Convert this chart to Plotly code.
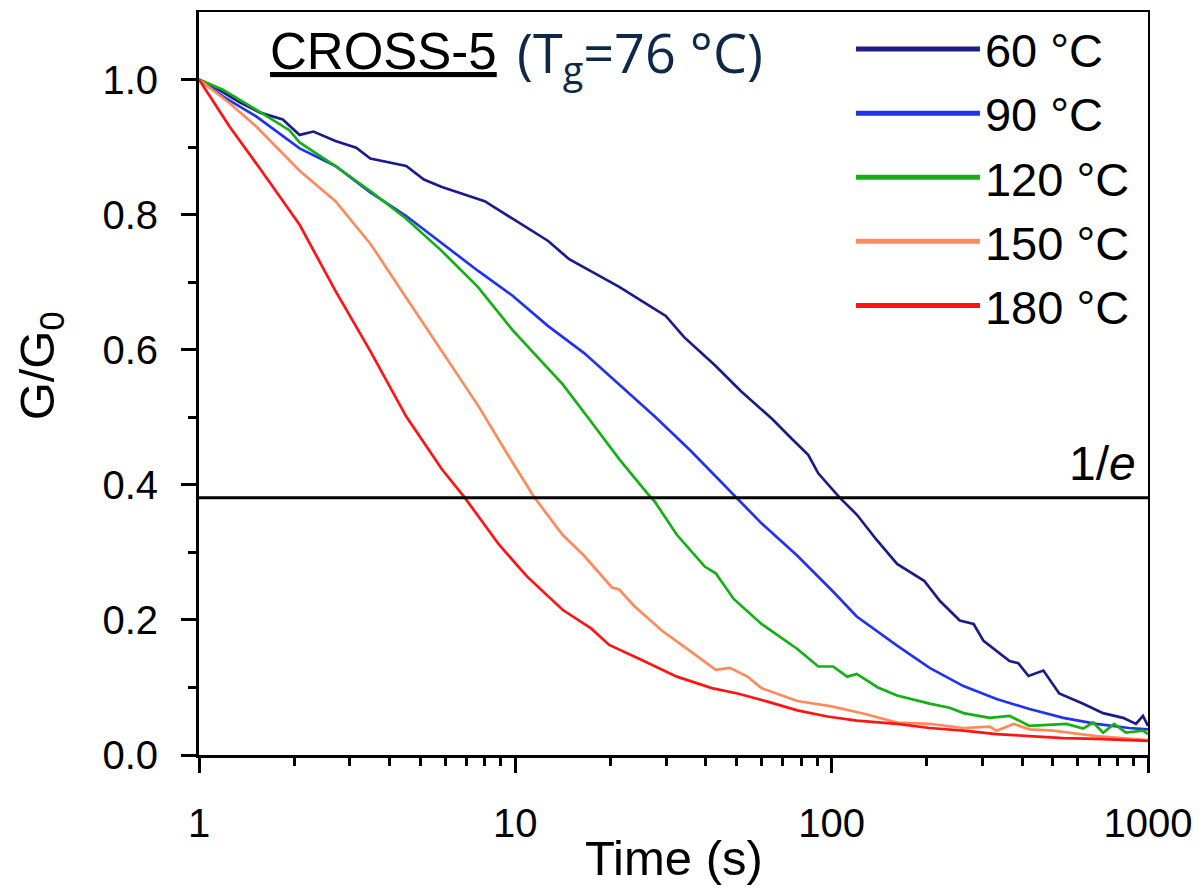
import plotly.graph_objects as go

# ---- data ----
series_names = ["60 °C", "90 °C", "120 °C", "150 °C", "180 °C"]
series_colors = ["#1c1c88", "#2233ee", "#14b014", "#ff8a5c", "#ff1414"]

t_60 = [1, 1.107, 1.35, 1.56, 1.84, 2.08, 2.30, 2.70, 3.14, 3.48, 4.52, 5.14, 5.86, 6.82, 8.00,
        9.80, 12.7, 14.8, 21.3, 27.6, 29.9, 34.1, 43.0, 51.6, 65.0, 74.1, 84.4, 90.7, 106, 120,
        139, 161, 196, 220, 254, 281, 302, 365, 389, 419, 467, 524, 624, 721, 834, 916, 964, 1000]
v_60 = [1.0, 0.99, 0.966, 0.951, 0.941, 0.918, 0.923, 0.909, 0.899, 0.883, 0.872, 0.852, 0.841,
        0.831, 0.820, 0.794, 0.761, 0.734, 0.693, 0.660, 0.650, 0.619, 0.576, 0.539, 0.497, 0.470,
        0.444, 0.417, 0.381, 0.356, 0.318, 0.283, 0.258, 0.228, 0.199, 0.194, 0.169, 0.139, 0.136,
        0.117, 0.125, 0.091, 0.076, 0.062, 0.055, 0.046, 0.058, 0.043]

t_90 = [1, 1.19, 1.52, 2.08, 2.70, 3.48, 4.52, 5.86, 7.61, 9.80, 12.7, 16.5, 21.3, 27.6, 35.9,
        46.6, 50.1, 60.0, 77.9, 101, 120, 161, 204, 261, 332, 422, 540, 686, 871, 1000]
v_90 = [1.0, 0.975, 0.945, 0.898, 0.872, 0.833, 0.798, 0.757, 0.717, 0.680, 0.635, 0.595, 0.549,
        0.501, 0.450, 0.396, 0.381, 0.343, 0.295, 0.242, 0.205, 0.162, 0.129, 0.102, 0.083, 0.068,
        0.055, 0.046, 0.040, 0.038]

t_120 = [1, 1.19, 1.52, 1.93, 2.08, 2.70, 3.48, 4.52, 5.86, 7.61, 9.80, 12.7, 14.1, 16.5, 21.3,
         26.3, 27.6, 32.4, 39.7, 43.0, 49.0, 60.0, 77.9, 90.7, 101, 112, 120, 140, 161, 204, 236,
         261, 316, 365, 422, 552, 624, 671, 721, 781, 852, 964, 1000]
v_120 = [1.0, 0.985, 0.955, 0.925, 0.907, 0.872, 0.835, 0.794, 0.746, 0.693, 0.629, 0.571, 0.549,
         0.507, 0.438, 0.386, 0.375, 0.326, 0.279, 0.269, 0.231, 0.194, 0.157, 0.131, 0.131, 0.116,
         0.120, 0.100, 0.088, 0.076, 0.07, 0.062, 0.055, 0.058, 0.043, 0.046, 0.039, 0.048, 0.033,
         0.046, 0.033, 0.036, 0.031]

t_150 = [1, 1.25, 1.52, 2.08, 2.70, 3.48, 4.52, 5.86, 7.61, 9.80, 11.5, 14.1, 16.5, 20.2, 21.3,
         23.7, 29.1, 35.9, 43.0, 47.6, 54.2, 60.0, 77.9, 100, 126.6, 161, 204, 261, 316, 332, 376,
         422, 501, 686, 852, 1000]
v_150 = [1.0, 0.965, 0.930, 0.865, 0.820, 0.757, 0.677, 0.598, 0.518, 0.433, 0.381, 0.326, 0.295,
         0.248, 0.245, 0.221, 0.184, 0.153, 0.126, 0.129, 0.116, 0.099, 0.080, 0.072, 0.061, 0.048,
         0.046, 0.040, 0.042, 0.036, 0.046, 0.038, 0.036, 0.028, 0.025, 0.022]

t_180 = [1, 1.25, 1.56, 2.08, 2.70, 3.48, 4.52, 5.86, 6.92, 8.86, 10.9, 14.1, 17.4, 19.8, 25.0,
         32.4, 41.8, 50.4, 62.7, 77.9, 96.9, 120, 161, 204, 261, 332, 422, 540, 686, 852, 1000]
v_180 = [1.0, 0.93, 0.868, 0.785, 0.687, 0.598, 0.501, 0.423, 0.381, 0.312, 0.264, 0.215, 0.187,
         0.163, 0.141, 0.116, 0.099, 0.091, 0.079, 0.066, 0.057, 0.051, 0.046, 0.040, 0.036, 0.031,
         0.028, 0.025, 0.024, 0.022, 0.021]

ref_level = 0.381          # horizontal "1/e" line as drawn
ref_t = [1, 1000]

x_tickvals = [1, 10, 100, 1000]
x_ticktext = ["1", "10", "100", "1000"]
x_minor = [m * d for d in (1, 10, 100) for m in range(2, 10)]
y_tickvals = [0.0, 0.2, 0.4, 0.6, 0.8, 1.0]
y_minor = [0.1, 0.3, 0.5, 0.7, 0.9]

FONT = "Liberation Sans, Arial, sans-serif"

fig = go.Figure()
all_t = [t_60, t_90, t_120, t_150, t_180]
all_v = [v_60, v_90, v_120, v_150, v_180]
for name, col, tt, vv in zip(series_names, series_colors, all_t, all_v):
    fig.add_trace(go.Scatter(x=tt, y=vv, mode="lines", name=name,
                             line=dict(color=col, width=2.7)))

fig.add_trace(go.Scatter(x=ref_t, y=[ref_level, ref_level], mode="lines",
                         line=dict(color="black", width=3), showlegend=False, hoverinfo="skip"))

# thin top/right frame via overlaying axes
fig.add_trace(go.Scatter(x=[1], y=[0], xaxis="x2", yaxis="y2", mode="markers",
                         marker=dict(opacity=0), showlegend=False, hoverinfo="skip"))

fig.update_layout(
    width=1204, height=889,
    margin=dict(l=199, r=52, t=12, b=134),
    paper_bgcolor="white", plot_bgcolor="white",
    font=dict(family=FONT, color="black", size=40),
    showlegend=True,
    legend=dict(x=0.687, y=1.0, xanchor="left", yanchor="top",
                bgcolor="rgba(0,0,0,0)", font=dict(size=47, family=FONT),
                itemwidth=124, tracegroupgap=0, itemsizing="constant"),
    xaxis=dict(type="log", range=[0, 3], showline=True, linecolor="black", linewidth=3,
               ticks="outside", ticklen=15, tickwidth=3, tickcolor="black",
               tickvals=x_tickvals, ticktext=x_ticktext, showgrid=False, zeroline=False,
               tickfont=dict(size=40), ticklabelstandoff=16,
               minor=dict(tickvals=x_minor, ticks="outside", ticklen=8, tickwidth=2.5,
                          tickcolor="black", showgrid=False)),
    yaxis=dict(range=[0, 1.1], showline=True, linecolor="black", linewidth=3,
               ticks="outside", ticklen=15, tickwidth=3, tickcolor="black",
               tickvals=y_tickvals, tickformat=".1f", showgrid=False, zeroline=False,
               tickfont=dict(size=40), ticklabelstandoff=15,
               minor=dict(tickvals=y_minor, ticks="outside", ticklen=8, tickwidth=2.5,
                          tickcolor="black", showgrid=False)),
    xaxis2=dict(overlaying="x", side="top", type="log", range=[0, 3], showline=True,
                linecolor="black", linewidth=2, showticklabels=False, ticks="",
                showgrid=False, zeroline=False),
    yaxis2=dict(overlaying="y", side="right", range=[0, 1.1], showline=True,
                linecolor="black", linewidth=2, showticklabels=False, ticks="",
                showgrid=False, zeroline=False),
)

# axis titles
fig.add_annotation(text="Time (s)", xref="paper", yref="paper", x=0.5, y=-0.1386,
                   xanchor="center", yanchor="middle", showarrow=False,
                   font=dict(size=49, family=FONT, color="black"))
fig.add_annotation(text="G/G<sub>0</sub>", xref="paper", yref="paper", x=-0.1668, y=0.524,
                   xanchor="center", yanchor="middle", showarrow=False, textangle=-90,
                   font=dict(size=49, family=FONT, color="black"))

# title pieces
fig.add_annotation(text="<u>CROSS-5</u>", xref="paper", yref="paper",
                   x=0.073, y=0.947, xanchor="left", yanchor="middle", showarrow=False,
                   font=dict(size=51, family=FONT, color="black"))
fig.add_annotation(text="(T<sub>g</sub>=76 °C)", xref="paper", yref="paper",
                   x=0.333, y=0.9416, xanchor="left", yanchor="middle", showarrow=False,
                   font=dict(size=54, family="Open Sans, sans-serif", color="#102848"))
fig.add_annotation(text="1/<i>e</i>", xref="paper", yref="paper",
                   x=0.989, y=0.393, xanchor="right", yanchor="middle", showarrow=False,
                   font=dict(size=48, family=FONT, color="black"))

fig.write_html("out.html", config={"displayModeBar": False},
               post_script="document.body.style.margin='0px';")
